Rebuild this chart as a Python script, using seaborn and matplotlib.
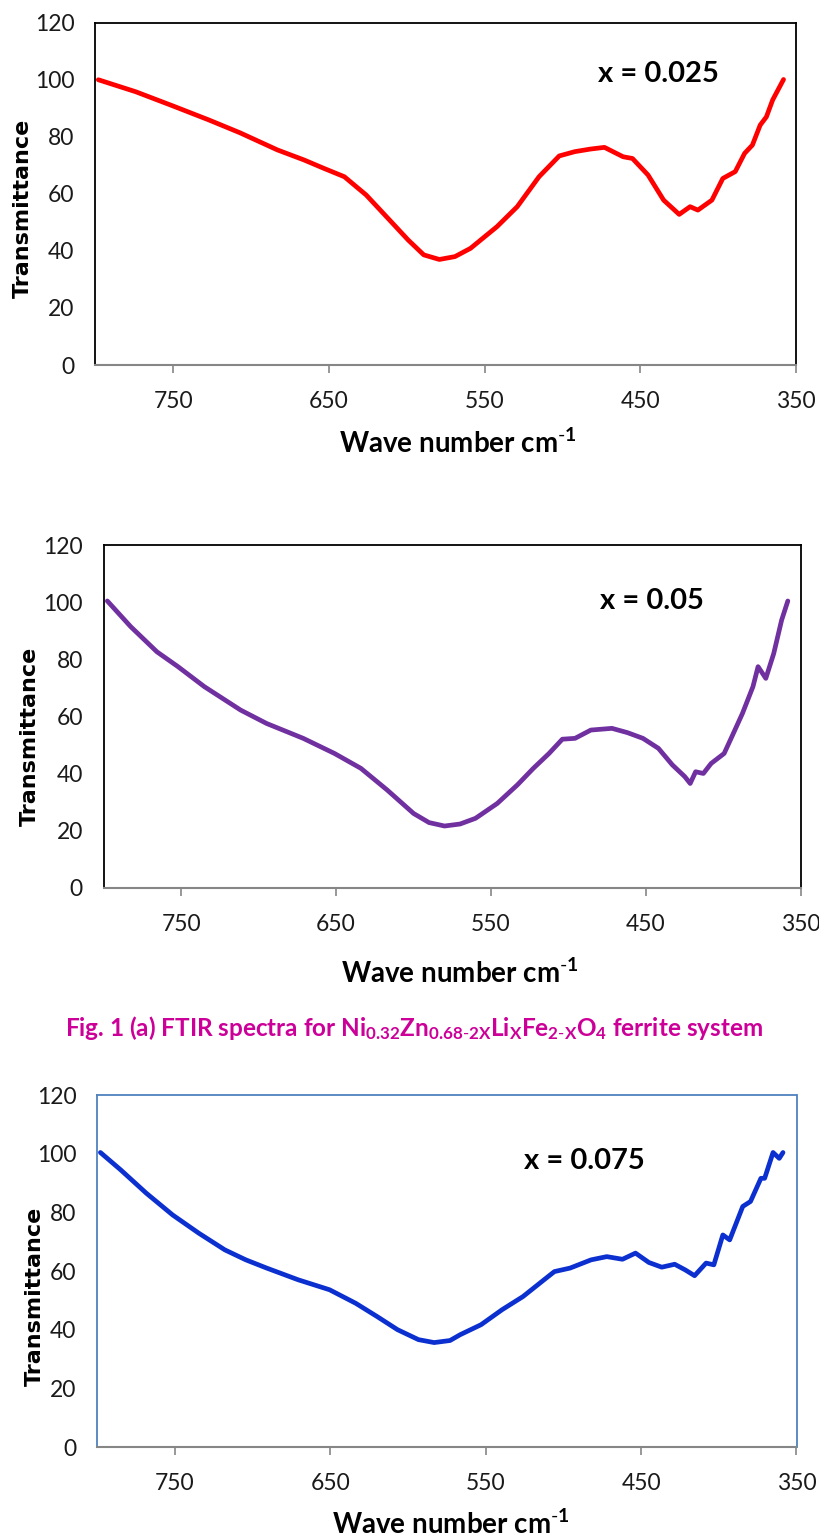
import matplotlib
matplotlib.use("Agg")
import matplotlib.pyplot as plt
import seaborn as sns
import pandas as pd

# ---------------- data ----------------
x_ticks = [750, 650, 550, 450, 350]
y_ticks = [0, 20, 40, 60, 80, 100, 120]

wn_025 = [798, 774, 750, 727, 707, 683, 666, 653, 640, 626, 613, 599, 589, 579, 569,
          559, 542, 529, 515, 502, 492, 482, 473, 461, 455, 445, 435, 425, 418, 413,
          404, 397, 389, 383, 378, 373, 369, 365, 358]
t_025 = [100, 95.8, 90.8, 85.9, 81.4, 75.4, 71.9, 68.9, 66.0, 59.6, 52.0, 43.8, 38.6, 37.0, 38.0,
         40.9, 48.5, 55.5, 66.0, 73.3, 74.8, 75.7, 76.3, 73.0, 72.4, 66.6, 57.8, 52.8, 55.5, 54.3,
         57.8, 65.4, 67.8, 74.2, 77.1, 84.1, 87.0, 92.9, 100.1]

wn_05 = [797.6, 782.5, 765.6, 752, 735, 711.6, 694.8, 671.2, 651, 634, 617, 600, 590, 580,
         570, 560, 546, 533, 522.7, 512.6, 504, 495.8, 485.6, 472, 462, 452, 442, 433, 425,
         421.5, 418, 413, 408, 399.6, 394.6, 387.8, 381, 377.7, 372.7, 367.6, 362.5, 358.5]
t_05 = [100.4, 91.4, 82.6, 77.4, 70.4, 62.2, 57.5, 52.3, 47.0, 41.8, 34.2, 26.0, 22.8, 21.6,
        22.3, 24.3, 29.5, 36.0, 41.8, 47.0, 52.0, 52.3, 55.2, 55.8, 54.3, 52.3, 48.8, 43.0, 38.9,
        36.5, 40.6, 40.0, 43.5, 47.0, 52.9, 61.0, 70.4, 77.4, 73.3, 82.0, 93.7, 100.4]

wn_075 = [798, 785, 768.4, 751.5, 734.7, 717.9, 704.4, 691, 670.7, 650.5, 633.7, 620, 606.8,
          593.3, 583.2, 573, 566.4, 553, 539.5, 526, 512.5, 505.8, 495.7, 482.2, 472.1, 462,
          453.6, 445, 436.7, 428.4, 421.7, 415.6, 408.2, 403.2, 397.4, 393, 384.6, 379.6,
          372.9, 370.5, 365.1, 361.1, 358.7]
t_075 = [100.4, 94.5, 86.5, 79.1, 72.9, 67.2, 63.8, 61.0, 57.0, 53.6, 49.0, 44.5, 40.0,
         36.6, 35.6, 36.3, 38.3, 41.7, 46.8, 51.3, 57.0, 59.8, 61.0, 63.8, 64.9, 64.0,
         66.1, 62.9, 61.3, 62.3, 60.4, 58.4, 62.7, 62.1, 72.3, 70.6, 82.0, 83.7,
         91.6, 91.6, 100.4, 98.4, 100.4]

labels = ["x = 0.025", "x = 0.05", "x = 0.075"]
colors = ["#FF0000", "#7030A0", "#0B30CF"]
x_title = "Wave number cm$^{\\mathbf{\\text{-}1}}$"
y_title = "Transmittance"
caption = ("Fig. 1 (a) FTIR spectra for Ni$_{\\mathbf{0.32}}$Zn$_{\\mathbf{0.68\\text{-}2X}}$"
           "Li$_{\\mathbf{X}}$Fe$_{\\mathbf{2\\text{-}X}}$O$_{\\mathbf{4}}$ ferrite system")

# ---------------- style ----------------
sns.set_theme(style="white")
plt.rcParams["font.family"] = ["Lato", "DejaVu Sans"]
plt.rcParams["mathtext.fontset"] = "custom"
plt.rcParams["mathtext.rm"] = "Lato"
plt.rcParams["mathtext.bf"] = "Lato:bold"
plt.rcParams["mathtext.it"] = "Lato:italic"

W, H = 820, 1538
fig = plt.figure(figsize=(W / 100, H / 100), dpi=100)

# pixel boxes: left, right, top, bottom
boxes = [(95.2, 796, 22.7, 365), (103.6, 801, 545, 887.7), (97.3, 796.5, 1095, 1447)]
frame_cols = ["black", "black", "#4F81BD"]
ylab_pos = [(23, 208), (29.5, 736), (35, 1296)]
xlab_pos = [(457.5, 443), (460, 973), (451, 1524)]
ann_pos = [(658.5, 74), (652, 601), (584.7, 1160.7)]

series = [(wn_025, t_025), (wn_05, t_05), (wn_075, t_075)]

for i, ((l, r, t, b), (xs, ys)) in enumerate(zip(boxes, series)):
    ax = fig.add_axes([l / W, 1 - b / H, (r - l) / W, (b - t) / H])
    df = pd.DataFrame({"wn": xs, "T": ys})
    sns.lineplot(data=df, x="wn", y="T", ax=ax, color=colors[i], lw=3.4, sort=False,
                 estimator=None)
    ax.set_xlim(800, 350)
    ax.set_ylim(0, 120)
    ax.set_xticks(x_ticks)
    ax.set_yticks(y_ticks)
    ax.set_xticklabels([str(v) for v in x_ticks])
    ax.tick_params(axis="x", length=6, width=1.2, color="#868686", pad=13,
                   labelsize=16.5, labelcolor="#1a1a1a", bottom=True, direction="out")
    ax.tick_params(axis="y", length=0, pad=15, labelsize=16.5, labelcolor="#1a1a1a")
    for s in ["top", "left", "right"]:
        ax.spines[s].set_color(frame_cols[i])
        ax.spines[s].set_linewidth(1.3)
    ax.spines["bottom"].set_color("#868686")
    ax.spines["bottom"].set_linewidth(1.5)
    ax.set_xlabel("")
    ax.set_ylabel("")
    # axis titles
    fig.text(xlab_pos[i][0] / W, 1 - xlab_pos[i][1] / H, x_title, ha="center", va="center",
             fontsize=20, fontweight="bold", color="black")
    fig.text(ylab_pos[i][0] / W, 1 - ylab_pos[i][1] / H, y_title, ha="center", va="center",
             rotation=90, fontsize=16, fontweight="bold", color="black",
             family="DejaVu Sans")
    fig.text(ann_pos[i][0] / W, 1 - ann_pos[i][1] / H, labels[i], ha="center", va="center",
             fontsize=21, fontweight="bold", color="black")

fig.text(414 / W, 1 - 1028 / H, caption, ha="center", va="center", fontsize=17.5,
         fontweight="bold", color="#CC0099")

fig.savefig("out.png", dpi=100, facecolor="white")
